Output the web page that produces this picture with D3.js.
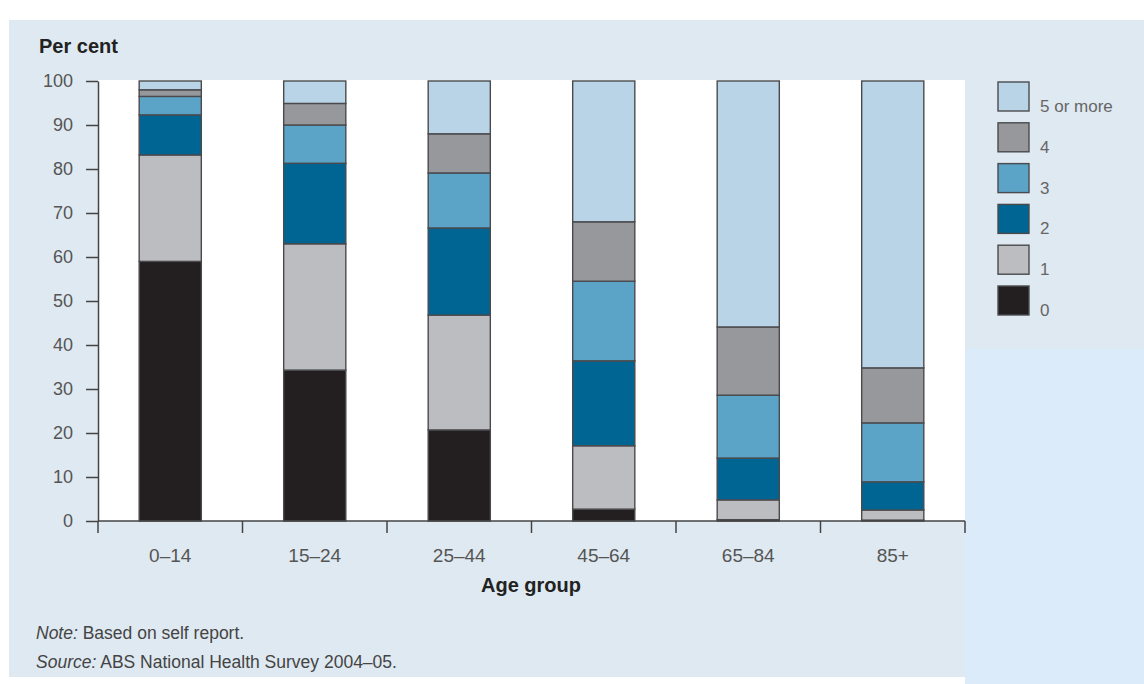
<!DOCTYPE html>
<html>
<head>
<meta charset="utf-8">
<script src="https://cdn.jsdelivr.net/npm/d3@7"></script>
<style>
  html, body { margin: 0; padding: 0; background: #ffffff; }
  svg { display: block; }
  text { font-family: "Liberation Sans", Arial, Helvetica, sans-serif; }
</style>
</head>
<body>
<svg id="chart" width="1144" height="684"></svg>
<script>
// Age groups along the x axis
const ageGroups = ["0–14", "15–24", "25–44", "45–64", "65–84", "85+"];

// Number of conditions reported (stack order, bottom to top)
const conditionKeys = ["0", "1", "2", "3", "4", "5 or more"];

// Per cent of each age group, one array per stack layer
const none      = [59.0, 34.3, 20.7,  2.7,  0.3,  0.2];
const one       = [24.2, 28.7, 26.1, 14.4,  4.5,  2.3];
const two       = [ 9.1, 18.3, 19.8, 19.3,  9.5,  6.4];
const three     = [ 4.2,  8.7, 12.5, 18.1, 14.3, 13.4];
const four      = [ 1.5,  4.9,  8.9, 13.5, 15.5, 12.5];
const fiveOrMore = [2.0,  5.1, 12.0, 32.0, 55.9, 65.2];

const yTicks = [0, 10, 20, 30, 40, 50, 60, 70, 80, 90, 100];

const layerColours = ["#231f20", "#bcbdc0", "#006592", "#5ba4c8", "#96989b", "#b8d4e6"];

// Build the table the stack generator needs
const layers = [none, one, two, three, four, fiveOrMore];
const rows = ageGroups.map((g, i) => {
  const r = { group: g };
  conditionKeys.forEach((k, j) => { r[k] = layers[j][i]; });
  return r;
});

const svg = d3.select("#chart");

// Page backgrounds: outer light blue, L-shaped panel
svg.append("rect").attr("x", 0).attr("y", 0).attr("width", 1144).attr("height", 684).attr("fill", "#dcebf9");
svg.append("rect").attr("x", 0).attr("y", 0).attr("width", 1144).attr("height", 20).attr("fill", "#ffffff");
svg.append("rect").attr("x", 0).attr("y", 20).attr("width", 9).attr("height", 664).attr("fill", "#ffffff");
svg.append("rect").attr("x", 9).attr("y", 677).attr("width", 956).attr("height", 7).attr("fill", "#ffffff");
svg.append("rect").attr("x", 9).attr("y", 20).attr("width", 1135).attr("height", 329).attr("fill", "#dfe9f1");
svg.append("rect").attr("x", 9).attr("y", 20).attr("width", 956).attr("height", 657).attr("fill", "#dfe9f1");

const margin = { left: 98, right: 965, top: 81, bottom: 521 };

const x = d3.scaleBand().domain(ageGroups).range([margin.left, margin.right]).paddingInner(0.57).paddingOuter(0.285);
const xBand = d3.scaleBand().domain(ageGroups).range([margin.left, margin.right]);
const y = d3.scaleLinear().domain([0, 100]).range([margin.bottom, margin.top]);

// White plotting area
svg.append("rect")
  .attr("x", margin.left).attr("y", 80)
  .attr("width", margin.right - margin.left).attr("height", margin.bottom - 80)
  .attr("fill", "#ffffff");

// Stacked bars
const stacked = d3.stack().keys(conditionKeys)(rows);
const colour = d3.scaleOrdinal().domain(conditionKeys).range(layerColours);

svg.append("g").selectAll("g")
  .data(stacked)
  .join("g")
  .attr("fill", d => colour(d.key))
  .selectAll("rect")
  .data(d => d)
  .join("rect")
  .attr("x", d => x(d.data.group))
  .attr("y", d => y(d[1]))
  .attr("width", x.bandwidth())
  .attr("height", d => y(d[0]) - y(d[1]))
  .attr("stroke", "#4a4a4d")
  .attr("stroke-width", 1.4);

// Y axis
const yAxis = svg.append("g")
  .attr("transform", `translate(${margin.left},0)`)
  .call(d3.axisLeft(y).tickValues(yTicks).tickSize(12).tickPadding(13).tickSizeOuter(0));
yAxis.select(".domain").attr("stroke", "#444").attr("stroke-width", 1.5);
yAxis.selectAll(".tick line").attr("stroke", "#444").attr("stroke-width", 1.5);
yAxis.selectAll(".tick text").attr("fill", "#555").attr("font-size", 18).attr("font-family", "\"Liberation Sans\", Arial, sans-serif");

// X axis: baseline with ticks at the group boundaries
const xAxis = svg.append("g").attr("transform", `translate(0,${margin.bottom})`);
xAxis.append("line")
  .attr("x1", margin.left).attr("x2", margin.right)
  .attr("stroke", "#444").attr("stroke-width", 1.5);
const boundaries = ageGroups.map(g => xBand(g)).concat([margin.right]);
xAxis.selectAll("line.sep")
  .data(boundaries)
  .join("line")
  .attr("class", "sep")
  .attr("x1", d => d).attr("x2", d => d)
  .attr("y1", 0).attr("y2", 12)
  .attr("stroke", "#444").attr("stroke-width", 1.5);
xAxis.selectAll("text.cat")
  .data(ageGroups)
  .join("text")
  .attr("class", "cat")
  .attr("x", d => xBand(d) + xBand.bandwidth() / 2)
  .attr("y", 41)
  .attr("text-anchor", "middle")
  .attr("fill", "#555")
  .attr("font-size", 19)
  .text(d => d);

// Axis titles
svg.append("text").attr("x", 39).attr("y", 53)
  .attr("font-size", 20).attr("font-weight", "bold").attr("fill", "#222")
  .text("Per cent");
svg.append("text").attr("x", 531).attr("y", 592)
  .attr("text-anchor", "middle")
  .attr("font-size", 20).attr("font-weight", "bold").attr("fill", "#222")
  .text("Age group");

// Legend, top entry is the top layer
const legendItems = conditionKeys.slice().reverse();
const legend = svg.append("g");
legendItems.forEach((k, i) => {
  const top = 82 + i * 40.8;
  legend.append("rect")
    .attr("x", 998).attr("y", top)
    .attr("width", 31).attr("height", 29)
    .attr("fill", colour(k))
    .attr("stroke", "#4a4a4d").attr("stroke-width", 1.4);
  legend.append("text")
    .attr("x", 1040).attr("y", top + 30)
    .attr("font-size", 17).attr("fill", "#666")
    .text(k);
});

// Notes
const note = svg.append("text").attr("x", 36).attr("y", 639).attr("font-size", 17.5).attr("fill", "#444");
note.append("tspan").attr("font-style", "italic").text("Note:");
note.append("tspan").text(" Based on self report.");
const src = svg.append("text").attr("x", 36).attr("y", 668).attr("font-size", 17.5).attr("fill", "#444");
src.append("tspan").attr("font-style", "italic").text("Source:");
src.append("tspan").text(" ABS National Health Survey 2004–05.");
</script>
</body>
</html>
